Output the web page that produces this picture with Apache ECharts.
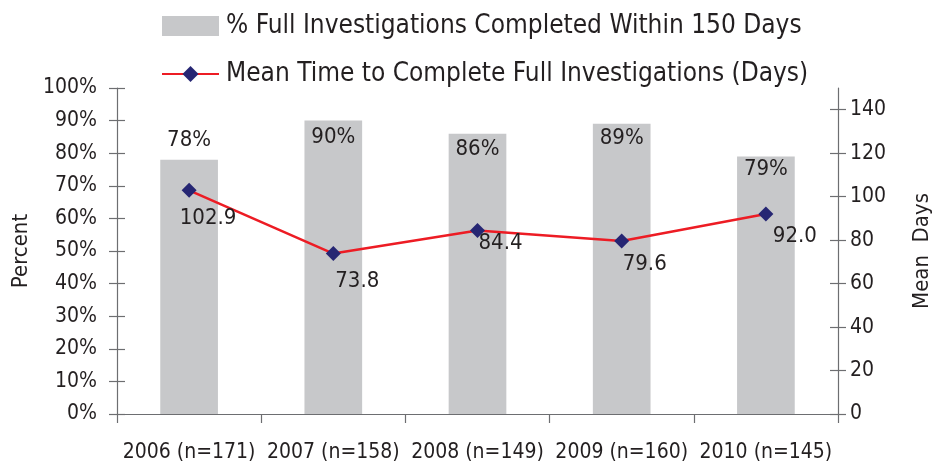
<!DOCTYPE html>
<html>
<head>
<meta charset="utf-8">
<script src="https://cdn.jsdelivr.net/npm/echarts@6/dist/echarts.min.js"></script>
<style>
  html, body { margin: 0; padding: 0; background: #fff; }
  #chart { width: 935px; height: 468px; }
</style>
</head>
<body>
<div id="chart"></div>
<script>
const years = ["2006 (n=171)", "2007 (n=158)", "2008 (n=149)", "2009 (n=160)", "2010 (n=145)"];
const pctWithin150 = [78, 90, 86, 89, 79];
const meanDays = [102.9, 73.8, 84.4, 79.6, 92.0];
const dayTicks = [0, 20, 40, 60, 80, 100, 120, 140];

// where each bar's percent label sits (outside above the bar, or inside its top)
const barLabelPlace = [
  { position: "top", distance: 8 },
  { position: "insideTop", distance: 6 },
  { position: "insideTop", distance: 5 },
  { position: "insideTop", distance: 3 },
  { position: "insideTop", distance: 2 },
];
// offsets of the mean-days labels from their marker
const lineLabelShift = [[19, 28], [24, 28], [23, 13], [23, 23], [29, 22]];

const FONT = "'Liberation Sans Narrow', 'DejaVu Sans Condensed', Arial, sans-serif";
const TXT = "#231f20";
const AX = "#6d6e71";
const GRID = { left: 117, right: 97, top: 88, bottom: 54, outerBoundsMode: "none", containLabel: false };

const chart = echarts.init(document.getElementById("chart"), null, { renderer: "canvas" });

const lbl = { color: TXT, fontFamily: FONT, fontSize: 21 };
const nameStyle = { color: TXT, fontFamily: FONT, fontSize: 22 };
const tick = (extra) => Object.assign({ show: true, length: 8, lineStyle: { color: AX, width: 1.2 } }, extra);

chart.setOption({
  animation: false,
  backgroundColor: "#fff",
  textStyle: { fontFamily: FONT, color: TXT },
  legend: {
    orient: "vertical",
    left: 156,
    top: 8,
    itemWidth: 57,
    itemHeight: 20,
    itemGap: 22,
    textStyle: { color: TXT, fontFamily: FONT, fontSize: 26, padding: [0, 0, 0, 2] },
    data: [
      { name: "% Full Investigations Completed Within 150 Days", icon: "rect" },
      { name: "Mean Time to Complete Full Investigations (Days)" },
    ],
  },
  grid: [Object.assign({}, GRID), Object.assign({}, GRID)],
  xAxis: [
    {
      type: "category",
      data: years,
      gridIndex: 0,
      axisLine: { lineStyle: { color: AX, width: 1.2 } },
      axisTick: tick({ interval: 0, length: 9 }),
      axisLabel: Object.assign({}, lbl, { interval: 0, margin: 28 }),
    },
    { type: "category", data: years, gridIndex: 1, show: false },
  ],
  yAxis: [
    {
      type: "value", gridIndex: 0, position: "left", min: 0, max: 100, interval: 10,
      name: "Percent", nameLocation: "middle", nameGap: 84, nameRotate: 90, nameTextStyle: nameStyle,
      axisLine: { show: true, lineStyle: { color: AX, width: 1.2 } },
      splitLine: { show: false },
      axisTick: tick(),
      axisLabel: Object.assign({}, lbl, { formatter: "{value}%", margin: 20 }),
    },
    {
      type: "value", gridIndex: 0, position: "right", min: 0, max: 150,
      name: "Mean  Days", nameLocation: "middle", nameGap: 73, nameRotate: 90, nameTextStyle: nameStyle,
      axisLine: { show: true, lineStyle: { color: AX, width: 1.2 } },
      splitLine: { show: false },
      axisTick: tick({ customValues: dayTicks }),
      axisLabel: Object.assign({}, lbl, { margin: 12, customValues: dayTicks }),
    },
    // inner halves of the crossing ticks, on a twin grid
    {
      type: "value", gridIndex: 1, position: "left", min: 0, max: 100, interval: 10,
      axisLine: { show: false }, splitLine: { show: false }, axisLabel: { show: false },
      axisTick: tick({ inside: true }),
    },
    {
      type: "value", gridIndex: 1, position: "right", min: 0, max: 150,
      axisLine: { show: false }, splitLine: { show: false }, axisLabel: { show: false, customValues: dayTicks },
      axisTick: tick({ inside: true, customValues: dayTicks }),
    },
  ],
  series: [
    {
      name: "% Full Investigations Completed Within 150 Days",
      type: "bar",
      xAxisIndex: 0,
      yAxisIndex: 0,
      barWidth: "40%",
      itemStyle: { color: "#c7c8ca" },
      data: pctWithin150.map((v, i) => ({
        value: v,
        label: {
          show: true,
          position: barLabelPlace[i].position,
          distance: barLabelPlace[i].distance,
          formatter: "{c}%",
          color: TXT, fontFamily: FONT, fontSize: 22,
        },
      })),
    },
    {
      name: "Mean Time to Complete Full Investigations (Days)",
      type: "line",
      xAxisIndex: 0,
      yAxisIndex: 1,
      symbol: "diamond",
      symbolSize: 15,
      lineStyle: { color: "#ed1c24", width: 2.5 },
      itemStyle: { color: "#262673" },
      data: meanDays.map((v, i) => ({
        value: v,
        label: {
          show: true,
          position: "inside",
          offset: lineLabelShift[i],
          formatter: (p) => p.value.toFixed(1),
          color: TXT, fontFamily: FONT, fontSize: 22,
        },
      })),
    },
  ],
});
</script>
</body>
</html>
